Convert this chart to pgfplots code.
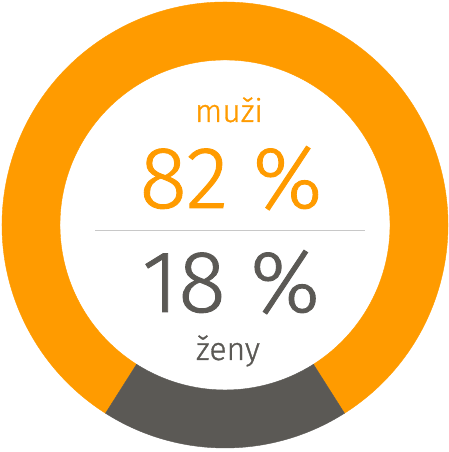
\documentclass[border=0pt]{standalone}
\usepackage{pgfplots}
\pgfplotsset{compat=1.18}
\usepackage{pgfplotstable}
\usepackage{fontspec}
\setmainfont{Fira Sans}[UprightFont=* Light, UprightFeatures={FakeBold=1}]

\definecolor{muzi}{HTML}{FF9B00}
\definecolor{zeny}{HTML}{5B5955}
\definecolor{rule}{HTML}{C8C8C8}

% share in percent, start = cumulative share before the segment
\pgfplotstableread{
start value
0     82
}\muzi
\pgfplotstableread{
start value
82    18
}\zeny

\pgfdeclareplotmark{blank}{}

\pgfplotsset{
    ring segment/.style={
        scatter,
        only marks,
        mark=blank,
        visualization depends on={\thisrow{start} \as \segstart},
        visualization depends on={\thisrow{value} \as \segval},
        scatter/@pre marker code/.code={%
            \pgfmathsetmacro\aa{302.4+3.6*\segstart}%
            \pgfmathsetmacro\ab{\aa+3.6*\segval}%
            \fill[#1, overlay] (\aa:223pt) arc[start angle=\aa, end angle=\ab, radius=223pt]
                -- (\ab:165pt) arc[start angle=\ab, end angle=\aa, radius=165pt] -- cycle;
        },
        scatter/@post marker code/.code={},
    },
}

\begin{document}
\begin{tikzpicture}
\begin{axis}[
    axis line style={draw=none},
    ticks=none,
    scale only axis,
    width=449pt,
    height=452pt,
    xmin=0, xmax=449,
    ymin=0, ymax=452,
    clip=false,
]
\addplot[ring segment=muzi] table[x expr=225, y expr=227] {\muzi};
\addplot[ring segment=zeny] table[x expr=225, y expr=227] {\zeny};

\draw[rule, line width=1pt] (axis cs:95,221) -- (axis cs:365,221);
\node[anchor=base, text=muzi, font=\fontsize{32}{36}\selectfont, inner sep=0pt] at (axis cs:229,330) {muži};
\node[anchor=base, text=muzi, font=\fontsize{88}{90}\selectfont, inner sep=0pt] at (axis cs:231,244) {82 \%};
\node[anchor=base, text=zeny, font=\fontsize{88}{90}\selectfont, inner sep=0pt] at (axis cs:231,140) {18 \%};
\node[anchor=base, text=zeny, font=\fontsize{32}{36}\selectfont, inner sep=0pt] at (axis cs:228,92) {ženy};
\end{axis}
\end{tikzpicture}
\end{document}
